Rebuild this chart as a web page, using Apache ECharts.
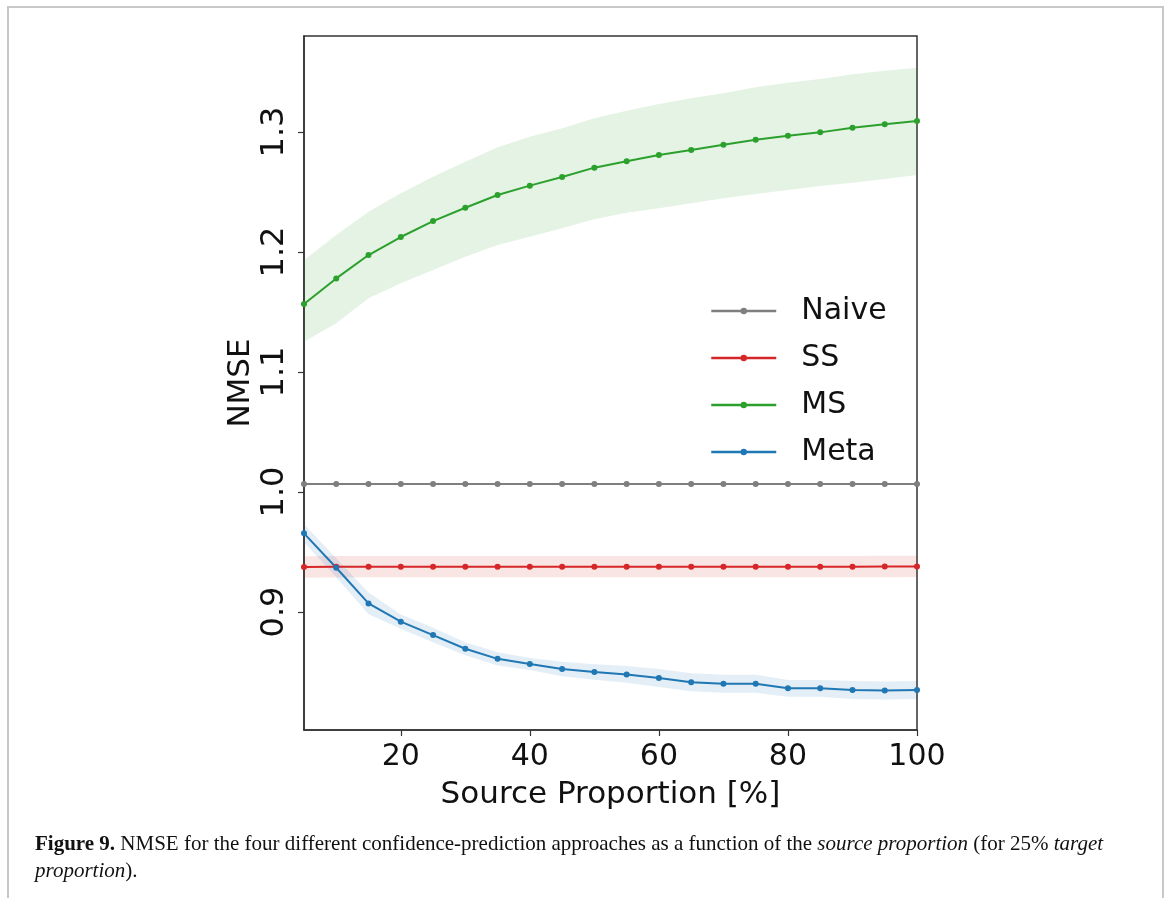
<!DOCTYPE html>
<html>
<head>
<meta charset="utf-8">
<script src="https://cdn.jsdelivr.net/npm/echarts@6/dist/echarts.min.js"></script>
<style>
html,body{margin:0;padding:0;background:#fff;}
#chart{width:1167px;height:898px;}
</style>
</head>
<body>
<div id="chart"></div>
<script>
// ---- data ----
const sourceProportion = [5,10,15,20,25,30,35,40,45,50,55,60,65,70,75,80,85,90,95,100];
const xTickValues = [20,40,60,80,100];
const yTickValues = [0.9,1.0,1.1,1.2,1.3];

const naive = [1.0067,1.0067,1.0067,1.0067,1.0067,1.0067,1.0067,1.0067,1.0067,1.0067,1.0067,1.0067,1.0067,1.0067,1.0067,1.0067,1.0067,1.0067,1.0067,1.0067];

const ss   = [0.9375,0.9377,0.9378,0.9378,0.9378,0.9378,0.9378,0.9378,0.9378,0.9378,0.9378,0.9378,0.9378,0.9378,0.9378,0.9378,0.9378,0.9378,0.9379,0.9380];
const ssHi = [0.9465,0.9467,0.9467,0.9467,0.9467,0.9467,0.9467,0.9467,0.9467,0.9467,0.9467,0.9467,0.9467,0.9467,0.9467,0.9467,0.9467,0.9467,0.9468,0.9470];
const ssLo = [0.9286,0.9288,0.9289,0.9289,0.9289,0.9289,0.9289,0.9289,0.9289,0.9289,0.9289,0.9289,0.9289,0.9289,0.9289,0.9289,0.9289,0.9289,0.9290,0.9291];

const ms   = [1.1567,1.1780,1.1975,1.2125,1.2258,1.2369,1.2475,1.2553,1.2625,1.2703,1.2756,1.2808,1.2850,1.2894,1.2936,1.2969,1.2997,1.3036,1.3064,1.3092];
const msHi = [1.1933,1.2142,1.2336,1.2489,1.2628,1.2753,1.2872,1.2961,1.3031,1.3114,1.3178,1.3233,1.3281,1.3322,1.3372,1.3411,1.3442,1.3481,1.3511,1.3536];
const msLo = [1.1253,1.1406,1.1614,1.1739,1.1850,1.1961,1.2058,1.2128,1.2197,1.2272,1.2328,1.2364,1.2406,1.2447,1.2483,1.2517,1.2550,1.2578,1.2608,1.2642];

const meta   = [0.9656,0.9369,0.9072,0.8920,0.8808,0.8694,0.8610,0.8567,0.8525,0.8500,0.8480,0.8450,0.8414,0.8403,0.8403,0.8364,0.8364,0.8350,0.8347,0.8350];
const metaHi = [0.9731,0.9449,0.9162,0.8980,0.8868,0.8749,0.8665,0.8617,0.8585,0.8565,0.8550,0.8525,0.8489,0.8478,0.8478,0.8434,0.8434,0.8425,0.8422,0.8425];
const metaLo = [0.9581,0.9289,0.8982,0.8860,0.8748,0.8639,0.8555,0.8517,0.8465,0.8435,0.8410,0.8375,0.8339,0.8328,0.8328,0.8294,0.8294,0.8275,0.8272,0.8275];

const seriesNames = ['Naive','SS','MS','Meta'];
const colors = {Naive:'#7f7f7f', SS:'#d62728', MS:'#2ca02c', Meta:'#1f77b4'};

// ---- chart ----
const chart = echarts.init(document.getElementById('chart'), null, {renderer:'canvas'});
const axisFont = 'DejaVu Sans';

function pairs(ys){ return sourceProportion.map((x,i)=>[x, ys[i]]); }

function bandSeries(lo, hi, fill){
  return {
    type:'custom', silent:true, clip:true, z:1,
    data: sourceProportion.map((x,i)=>[x, lo[i], hi[i]]),
    encode:{x:0, y:[1,2]},
    renderItem:function(params, api){
      if(params.dataIndex !== 0) return null;
      const pts = [];
      for(let i=0;i<sourceProportion.length;i++) pts.push(api.coord([sourceProportion[i], hi[i]]));
      for(let i=sourceProportion.length-1;i>=0;i--) pts.push(api.coord([sourceProportion[i], lo[i]]));
      return {type:'polygon', shape:{points:pts}, style:{fill:fill, stroke:null}};
    }
  };
}

function lineSeries(name, ys){
  return {
    name:name, type:'line', z:3,
    data: pairs(ys),
    symbol:'circle', symbolSize:6, showSymbol:true,
    lineStyle:{color:colors[name], width:2},
    itemStyle:{color:colors[name]},
    emphasis:{disabled:true},
    animation:false
  };
}

const option = {
  animation:false,
  backgroundColor:'#ffffff',
  grid:{left:304, top:36, width:613, height:694, containLabel:false, show:true, borderColor:'#333', borderWidth:1.5, backgroundColor:'transparent'},
  legend:{
    data:seriesNames, orient:'vertical', left:710, top:296, padding:0,
    itemWidth:65, itemHeight:8, itemGap:17,
    lineStyle:{width:2.5},
    textStyle:{fontFamily:axisFont, fontSize:30, color:'#111', padding:[0,0,0,20]},
    selectedMode:false
  },
  xAxis:{
    type:'value', min:5, max:100,
    name:'Source Proportion [%]', nameLocation:'middle', nameGap:49,
    nameTextStyle:{fontFamily:axisFont, fontSize:31, color:'#111'},
    axisLine:{show:true, lineStyle:{color:'#333', width:1.5}},
    axisTick:{show:true, inside:false, length:6, lineStyle:{color:'#333', width:1.2}, customValues:xTickValues},
    axisLabel:{show:true, fontFamily:axisFont, fontSize:30, color:'#111', margin:12, customValues:xTickValues},
    splitLine:{show:false}
  },
  yAxis:{
    type:'value', min:0.8017, max:1.38,
    name:'NMSE', nameLocation:'middle', nameGap:48, nameMoveOverlap:false,
    nameTextStyle:{fontFamily:axisFont, fontSize:31, color:'#111', padding:[0,0,0,0]},
    axisLine:{show:true, lineStyle:{color:'#333', width:1.5}},
    axisTick:{show:true, inside:false, length:6, lineStyle:{color:'#333', width:1.2}, customValues:yTickValues},
    axisLabel:{show:true, rotate:90, fontFamily:axisFont, fontSize:32, color:'#111', margin:13, customValues:yTickValues,
      formatter:function(v){ return Number(v).toFixed(1); }},
    splitLine:{show:false}
  },
  graphic:[
    {type:'rect', shape:{x:8, y:7, width:1155, height:900}, style:{fill:null, stroke:'#c8c8c8', lineWidth:2}, silent:true},
    {type:'text', left:35, top:831, silent:true,
      style:{
        text:'{b|Figure 9.} NMSE for the four different confidence-prediction approaches as a function of the {i|source proportion} (for 25% {i|target}\n{i|proportion}).',
        font:'21px "Liberation Serif"', fill:'#111', lineHeight:27,
        rich:{
          b:{fontWeight:'bold', fontFamily:'Liberation Serif', fontSize:21, lineHeight:27},
          i:{fontStyle:'italic', fontFamily:'Liberation Serif', fontSize:21, lineHeight:27}
        }
      }
    }
  ],
  series:[
    bandSeries(msLo, msHi, 'rgba(44,160,44,0.12)'),
    bandSeries(ssLo, ssHi, 'rgba(214,39,40,0.12)'),
    bandSeries(metaLo, metaHi, 'rgba(31,119,180,0.12)'),
    lineSeries('Naive', naive),
    lineSeries('SS', ss),
    lineSeries('MS', ms),
    lineSeries('Meta', meta)
  ]
};
chart.setOption(option);
</script>
</body>
</html>
